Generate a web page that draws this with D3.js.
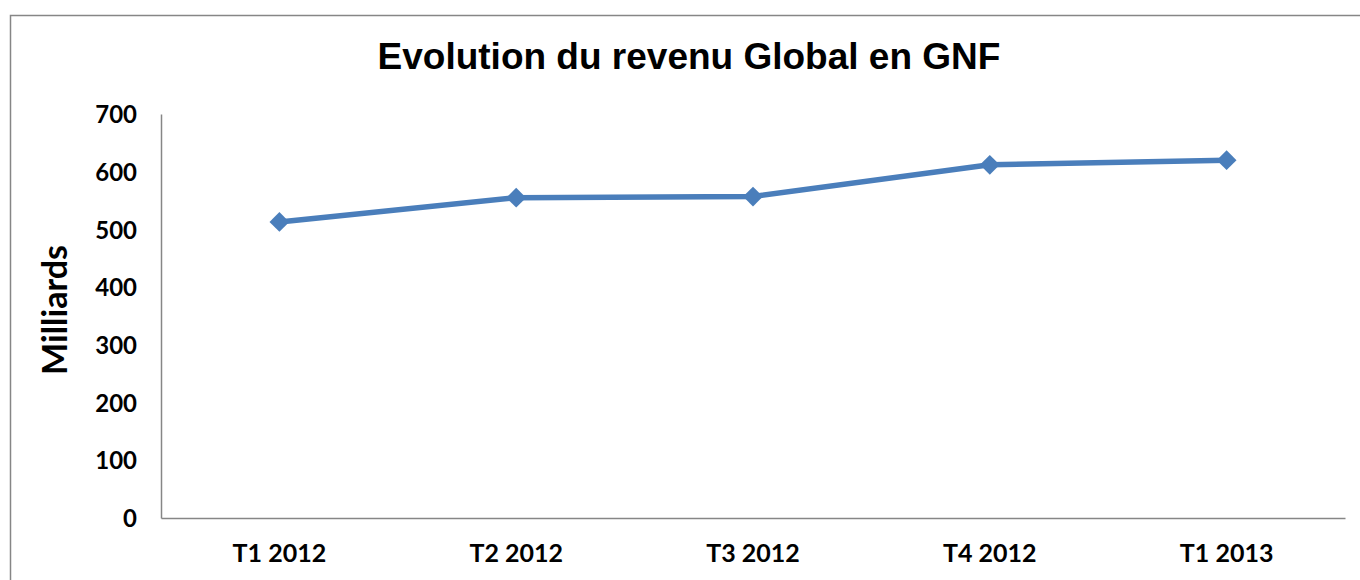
<!DOCTYPE html>
<html>
<head>
<meta charset="utf-8">
<script src="https://cdn.jsdelivr.net/npm/d3@7"></script>
<style>
  body { margin: 0; background: #fff; }
  svg { display: block; }
  .tick text { font-family: Lato, "Open Sans", sans-serif; font-weight: bold; fill: #000; }
</style>
</head>
<body>
<svg id="chart" width="1360" height="580"></svg>
<script>
const categories = ['T1 2012', 'T2 2012', 'T3 2012', 'T4 2012', 'T1 2013'];
const revenue = [513, 555, 557, 612, 620];
const yTicks = [0, 100, 200, 300, 400, 500, 600, 700];

const svg = d3.select('#chart');
const margin = { left: 161, right: 15, top: 114, bottom: 62 };
const width = 1360, height = 580;

// outer chart frame (runs off the right/bottom of the picture)
svg.append('rect')
  .attr('x', 10.5).attr('y', 15.5)
  .attr('width', 1400).attr('height', 700)
  .attr('fill', 'none')
  .attr('stroke', '#868686')
  .attr('stroke-width', 1.5);

const x = d3.scaleBand()
  .domain(categories)
  .range([margin.left, width - margin.right]);

const y = d3.scaleLinear()
  .domain([0, 700])
  .range([height - margin.bottom, margin.top]);

// y axis
const yAxis = svg.append('g')
  .attr('transform', `translate(${margin.left},0)`)
  .call(d3.axisLeft(y).tickValues(yTicks).tickSize(0).tickPadding(24));
yAxis.select('.domain').attr('stroke', '#868686').attr('stroke-width', 1.5);
yAxis.selectAll('.tick text').attr('font-size', 24).attr('dy', '0.36em');

// x axis
const xAxis = svg.append('g')
  .attr('transform', `translate(0,${y(0)})`)
  .call(d3.axisBottom(x).tickSize(0).tickPadding(26));
xAxis.select('.domain').attr('stroke', '#868686').attr('stroke-width', 1.5);
xAxis.selectAll('.tick text').attr('font-size', 25);

// line
const line = d3.line()
  .x((d, i) => x(categories[i]) + x.bandwidth() / 2)
  .y((d) => y(d));

svg.append('path')
  .datum(revenue)
  .attr('fill', 'none')
  .attr('stroke', '#4a7ebb')
  .attr('stroke-width', 5.5)
  .attr('stroke-linejoin', 'round')
  .attr('d', line);

svg.selectAll('path.marker')
  .data(revenue)
  .enter()
  .append('path')
  .attr('class', 'marker')
  .attr('d', d3.symbol().type(d3.symbolDiamond2).size(250))
  .attr('transform', (d, i) => `translate(${x(categories[i]) + x.bandwidth() / 2},${y(d)})`)
  .attr('fill', '#4a7ebb');

// title
svg.append('text')
  .attr('x', 689).attr('y', 69)
  .attr('text-anchor', 'middle')
  .attr('font-family', '"Liberation Sans", Arial, sans-serif')
  .attr('font-weight', 'bold')
  .attr('font-size', 37)
  .text('Evolution du revenu Global en GNF');

// y axis title
svg.append('text')
  .attr('transform', 'translate(67,310) rotate(-90)')
  .attr('text-anchor', 'middle')
  .attr('font-family', 'Lato, "Open Sans", sans-serif')
  .attr('font-weight', 'bold')
  .attr('font-size', 34)
  .text('Milliards');
</script>
</body>
</html>
